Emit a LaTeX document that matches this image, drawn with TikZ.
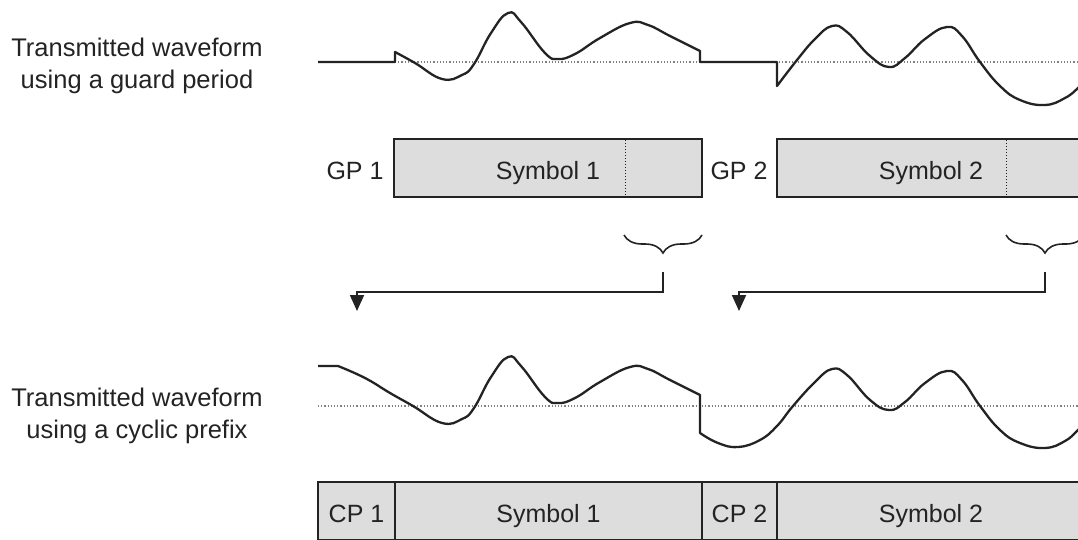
\documentclass[tikz,border=0pt]{standalone}
\usepackage{fontspec}
\setmainfont{Liberation Sans}
\usetikzlibrary{decorations.pathreplacing,arrows.meta}
\definecolor{boxfill}{RGB}{221,221,221}
\definecolor{ink}{RGB}{35,35,35}
\begin{document}
\begin{tikzpicture}[x=1pt,y=-1pt,
  wave/.style={line width=2.3pt, line join=round, ink},
  baseln/.style={dotted, line width=1.2pt, black!50},
  boxst/.style={draw=ink, line width=2pt, fill=boxfill, inner sep=0pt,
    minimum height=58pt, text height=22pt, text depth=0pt, text=ink,
    font=\fontsize{25}{30}\selectfont},
  lbl/.style={inner sep=0pt, text height=22pt, text depth=0pt, text=ink,
    font=\fontsize{25}{30}\selectfont},
  side/.style={inner sep=0pt, align=center, text=ink,
    font=\fontsize{25.5}{32}\selectfont},
  divider/.style={dotted, line width=1pt, ink},
  brc/.style={decorate, decoration={brace, amplitude=18pt}, line width=1.6pt, ink},
  conn/.style={line width=1.8pt, ink, -{Triangle[width=14pt,length=16pt]}}
]
\useasboundingbox (0,0) rectangle (1078,540);
\clip (0,0) rectangle (1078,540);

% side labels
\node[side] (lab1) at (137,66) {Transmitted waveform\\using a guard period};
\node[side] (lab2) at (137,416) {Transmitted waveform\\using a cyclic prefix};

% dotted baselines
\draw[baseln] (395,62) -- (1085,62);
\draw[baseln] (318,406) -- (1085,406);

% top waveform (guard period)
\draw[wave] (318,62) -- (395,62) -- (395,52)
  -- plot[smooth,tension=0.75] coordinates {(395,52) (415,63) (442,79) (462,75) (474,64) (491,33) (508,13) (521,22) (545,53) (558,59) (575,54) (600,38) (630,23) (648,25) (670,36) (700,51)}
  -- (700,62) -- (777,62) -- (777,86)
  -- plot[smooth,tension=0.75] coordinates {(777,86) (797,60) (815,39) (832,26) (847,32) (870,56) (889,67) (905,58) (925,39) (947,27) (962,36) (980,62) (1000,86) (1020,100) (1045,105) (1065,98) (1078,88) (1085,80)};

% bottom waveform (cyclic prefix)
\draw[wave] (318,366) -- (338,366)
  -- plot[smooth,tension=0.75] coordinates {(338,366) (365,378) (390,393) (413,406) (442,423) (462,419) (474,408) (491,377) (508,357) (521,366) (545,397) (558,403) (575,398) (600,382) (630,367) (648,369) (670,380) (700,395)}
  -- (700,433)
  -- plot[smooth,tension=0.75] coordinates {(700,433) (718,443) (738,447) (760,440) (777,426) (793,406) (815,382) (832,369) (847,375) (870,400) (889,410) (905,402) (925,383) (947,371) (962,380) (980,406) (1000,430) (1020,443) (1045,448) (1065,441) (1078,430) (1085,422)};

% guard period row
\node[lbl] (gp1) at (355,168) {GP 1};
\node[boxst, minimum width=308pt] (sym1) at (548,168) {Symbol 1};
\draw[divider] (625,140) -- (625,196);
\node[lbl] (gp2) at (739,168) {GP 2};
\node[boxst, minimum width=308pt] (sym2) at (931,168) {Symbol 2};
\draw[divider] (1006,140) -- (1006,196);

% braces
\draw[brc] (702,235) -- (624,235);
\draw[brc] (1084,235) -- (1006,235);

% connectors
\coordinate (b1) at (663,272);
\coordinate (k1) at (357,292);
\coordinate (t1) at (357,311);
\draw[conn] (b1) |- (k1) -- (t1);
\coordinate (b2) at (1045,272);
\coordinate (k2) at (739,292);
\coordinate (t2) at (739,311);
\draw[conn] (b2) |- (k2) -- (t2);

% cyclic prefix row
\node[boxst, minimum width=77pt] (cp1) at (356.5,511) {CP 1};
\node[boxst, minimum width=307pt] (csym1) at (548.5,511) {Symbol 1};
\node[boxst, minimum width=75pt] (cp2) at (739.5,511) {CP 2};
\node[boxst, minimum width=308pt] (csym2) at (931,511) {Symbol 2};
\end{tikzpicture}
\end{document}
